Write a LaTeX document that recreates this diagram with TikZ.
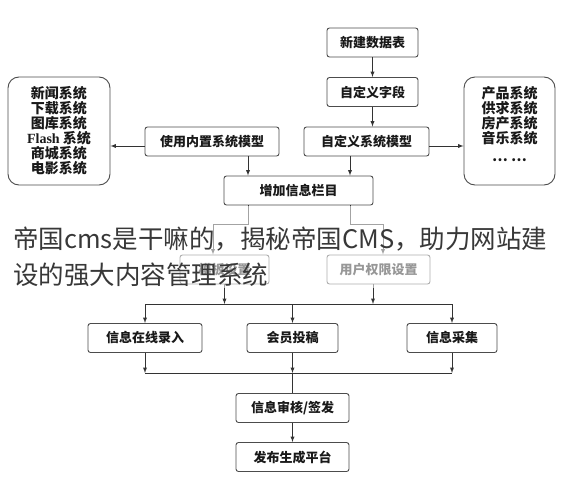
\documentclass[tikz,border=0pt]{standalone}
\usepackage{fontspec}
\setmainfont{Liberation Serif}
\newfontfamily\cjk{Noto Sans CJK SC}
\usetikzlibrary{arrows}

\tikzset{
  stagebox/.style={draw=black!70,fill=white,rounded corners=2.5pt,line width=0.9pt,
    minimum height=29pt,inner sep=0pt,text=black!90,
    font=\cjk\bfseries\fontsize{13}{15}\selectfont},
  sysbox/.style={draw=black!70,fill=white,rounded corners=11pt,line width=0.9pt,
    minimum height=108pt,inner sep=0pt,align=center,text=black!90,
    font=\cjk\bfseries\fontsize{14}{15}\selectfont},
  flow/.style={->,>=latex,line width=0.9pt,draw=black!80},
  wire/.style={line width=0.9pt,draw=black!80}
}

\begin{document}
\begin{tikzpicture}[x=1pt,y=-1pt]
    \useasboundingbox (0,0) rectangle (562,490);

    % top chain
    \node[stagebox,minimum width=91pt]  (newtab)  at (372.5,42.5) {新建数据表};
    \node[stagebox,minimum width=91pt]  (field)   at (372.5,92)   {自定义字段};
    \node[stagebox,minimum width=125pt] (custom)  at (366.5,141.5) {自定义系统模型};
    \node[stagebox,minimum width=134pt] (builtin) at (212,141.5)  {使用内置系统模型};
    \node[sysbox,minimum width=102pt] (sysleft) at (59,131)
      {新闻系统\\下载系统\\图库系统\\{\rmfamily\bfseries Flash} 系统\\商城系统\\电影系统};
    \node[sysbox,minimum width=91pt] (sysright) at (509.5,131)
      {产品系统\\供求系统\\房产系统\\音乐系统\\[3pt]… …\\};
    \node[stagebox,minimum width=149pt] (addcol)  at (298.5,190.5) {增加信息栏目};

    % settings
    \node[stagebox,minimum width=89pt]  (tpl)     at (224.5,269.5) {模板设置};
    \node[stagebox,minimum width=103pt] (perm)    at (378.5,269.5) {用户权限设置};

    % input
    \node[stagebox,minimum width=114pt] (online)  at (145,338)   {信息在线录入};
    \node[stagebox,minimum width=91pt]  (member)  at (292.5,338) {会员投稿};
    \node[stagebox,minimum width=90pt]  (collect) at (452,338)   {信息采集};
    \node[stagebox,minimum width=113pt] (audit)   at (292.5,408) {信息审核/签发};
    \node[stagebox,minimum width=113pt] (publish) at (292.5,457) {发布生成平台};

    \coordinate (sideY) at (0,146);
    \coordinate (colL) at (248,224);
    \coordinate (colR) at (350,224);
    \coordinate (tplX) at (213,224);
    \coordinate (permX) at (383,224);
    \coordinate (busA) at (0,304);
    \coordinate (busB) at (0,373);
    \coordinate (permOut) at (373,0);

    \draw[flow] (newtab) -- (field);
    \draw[flow] (field.south) -- (field.south |- custom.north);
    \draw[flow] (builtin.west |- sideY) -- (sysleft.east |- sideY);
    \draw[flow] (custom.east |- sideY) -- (sysright.west |- sideY);
    \draw[flow] (builtin.south -| colL) -- (addcol.north -| colL);
    \draw[flow] (custom.south -| colR) -- (addcol.north -| colR);

    \draw[flow] (addcol.south -| colL) -- (colL) -- (tplX) -- (tpl.north -| tplX);
    \draw[flow] (addcol.south -| colR) -- (colR) -- (permX) -- (perm.north -| permX);

    \draw[flow] (tpl.south) -- (tpl.south |- busA);
    \draw[flow] (perm.south -| permOut) -- (busA -| permOut);
    \draw[wire] (online.north |- busA) -- (collect.north |- busA);
    \foreach \n in {online,member,collect} {
      \draw[flow] (\n.north |- busA) -- (\n.north);
      \draw[flow] (\n.south) -- (\n.south |- busB);
    }
    \draw[wire] (online.south |- busB) -- (collect.south |- busB);
    \draw[wire] (member.south |- busB) -- (audit.north);
    \draw[flow] (audit) -- (publish);

    % overlay caption
    \fill[white,opacity=0.55] (0,206) rectangle (562,288);
    \node[anchor=west,inner sep=0pt,text=black!78,font=\cjk\fontsize{25.5}{36}\selectfont] (capA) at (13,239)
      {帝国cms是干嘛的，揭秘帝国CMS，助力网站建};
    \node[anchor=west,inner sep=0pt,text=black!78,font=\cjk\fontsize{25.5}{36}\selectfont] (capB) at (13,275)
      {设的强大内容管理系统};
\end{tikzpicture}
\end{document}
